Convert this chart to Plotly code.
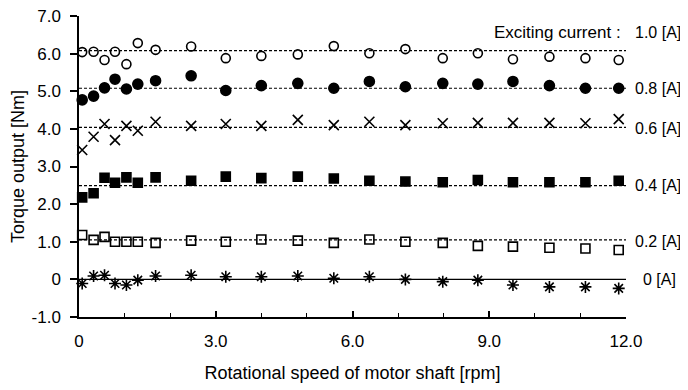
import plotly.graph_objects as go

speed = [0.07, 0.32, 0.56, 0.79, 1.04, 1.29, 1.68, 2.46, 3.22, 4.0, 4.8, 5.59,
         6.37, 7.16, 7.98, 8.75, 9.52, 10.32, 11.11, 11.84]

torque_10 = [6.04, 6.05, 5.83, 6.05, 5.72, 6.28, 6.10, 6.19, 5.88, 5.94, 5.98, 6.20,
             6.01, 6.12, 5.88, 6.01, 5.85, 5.92, 5.88, 5.83]
torque_08 = [4.77, 4.87, 5.09, 5.32, 5.06, 5.19, 5.28, 5.41, 5.02, 5.15, 5.21, 5.08,
             5.26, 5.12, 5.21, 5.19, 5.26, 5.15, 5.08, 5.08]
torque_06 = [3.44, 3.79, 4.13, 3.70, 4.08, 3.95, 4.19, 4.08, 4.13, 4.08, 4.24, 4.10,
             4.19, 4.10, 4.15, 4.16, 4.16, 4.16, 4.15, 4.26]
torque_04 = [2.18, 2.29, 2.70, 2.57, 2.71, 2.57, 2.71, 2.62, 2.73, 2.69, 2.73, 2.68,
             2.62, 2.60, 2.58, 2.64, 2.58, 2.58, 2.58, 2.62]
torque_02 = [1.18, 1.05, 1.13, 1.00, 1.00, 1.00, 0.97, 1.03, 1.00, 1.06, 1.03, 0.97,
             1.06, 1.00, 0.97, 0.89, 0.87, 0.84, 0.82, 0.78]
torque_00 = [-0.11, 0.09, 0.11, -0.11, -0.15, -0.02, 0.09, 0.11, 0.07, 0.07, 0.09, 0.03,
             0.07, 0.00, -0.06, -0.02, -0.15, -0.20, -0.20, -0.24]

current_labels = ["1.0 [A]", "0.8 [A]", "0.6 [A]", "0.4 [A]", "0.2 [A]", "0 [A]"]
label_y = [6.55, 5.06, 4.02, 2.5, 1.02, 0.0]
level_values = [6.08, 5.08, 4.04, 2.49, 1.05, 0.0]
line_x = [0.0, 12.0]

y_tick_vals = [-1, 0, 1, 2, 3, 4, 5, 6, 7]
y_tick_text = ["-1.0", "0", "1.0", "2.0", "3.0", "4.0", "5.0", "6.0", "7.0"]
x_tick_vals = [0, 3, 6, 9, 12]
x_tick_text = ["0", "3.0", "6.0", "9.0", "12.0"]

series = [torque_10, torque_08, torque_06, torque_04, torque_02, torque_00]
symbols = ["circle-open", "circle", "x-thin-open", "square", "square-open", "asterisk-open"]
sizes = [9, 10, 10, 9, 9, 10]

FONT = "Liberation Sans, Arial, sans-serif"
fig = go.Figure()

for lvl in level_values:
    fig.add_trace(go.Scatter(
        x=line_x, y=[lvl, lvl], mode="lines",
        line=dict(color="black", width=1.2, dash="solid" if lvl == 0 else "3px,2px"),
        hoverinfo="skip", showlegend=False))

for ys, sym, sz in zip(series, symbols, sizes):
    fig.add_trace(go.Scatter(
        x=speed, y=ys, mode="markers", cliponaxis=False, showlegend=False,
        marker=dict(symbol=sym, size=sz, color="black",
                    line=dict(color="black", width=1.6))))

ann_px = [1.012, 1.012, 1.012, 1.012, 1.012, 1.027]
for lab, ax_, ay_ in zip(current_labels, ann_px, label_y):
    fig.add_annotation(x=ax_, xref="paper", y=ay_, yref="y", text=lab, showarrow=False,
                       xanchor="left", yanchor="middle",
                       font=dict(family=FONT, size=16, color="black"))
fig.add_annotation(x=0.994, xref="paper", y=6.55, yref="y", text="Exciting current :",
                   showarrow=False, xanchor="right", yanchor="middle",
                   font=dict(family=FONT, size=17, color="black"))

fig.update_xaxes(range=[0, 12], showline=True, linecolor="black", linewidth=1.5,
                 ticks="inside", ticklen=6, tickcolor="black", tickwidth=1.5,
                 tickvals=x_tick_vals, ticktext=x_tick_text, ticklabelstandoff=8,
                 ticklabeloverflow="allow",
                 minor=dict(dtick=1, ticks="inside", ticklen=4, tickcolor="black", tickwidth=1.2),
                 showgrid=False, zeroline=False, automargin=False,
                 tickfont=dict(family=FONT, size=17, color="black"),
                 title=dict(text="Rotational speed of motor shaft [rpm]", standoff=16,
                            font=dict(family=FONT, size=18, color="black")))
fig.update_yaxes(range=[-1, 7], showline=True, linecolor="black", linewidth=1.5,
                 ticks="outside", ticklen=7, tickcolor="black", tickwidth=1.5,
                 tickvals=y_tick_vals, ticktext=y_tick_text, ticklabelstandoff=6,
                 ticklabeloverflow="allow",
                 showgrid=False, zeroline=False, automargin=False,
                 tickfont=dict(family=FONT, size=17, color="black"),
                 title=dict(text="Torque output [Nm]", standoff=6,
                            font=dict(family=FONT, size=18, color="black")))

# page has an 8px body margin, so the figure is sized/offset to land like the reference
fig.update_layout(width=680, height=382, margin=dict(l=71, r=62, t=8, b=73),
                  plot_bgcolor="white", paper_bgcolor="white")

fig.write_html("out.html")
